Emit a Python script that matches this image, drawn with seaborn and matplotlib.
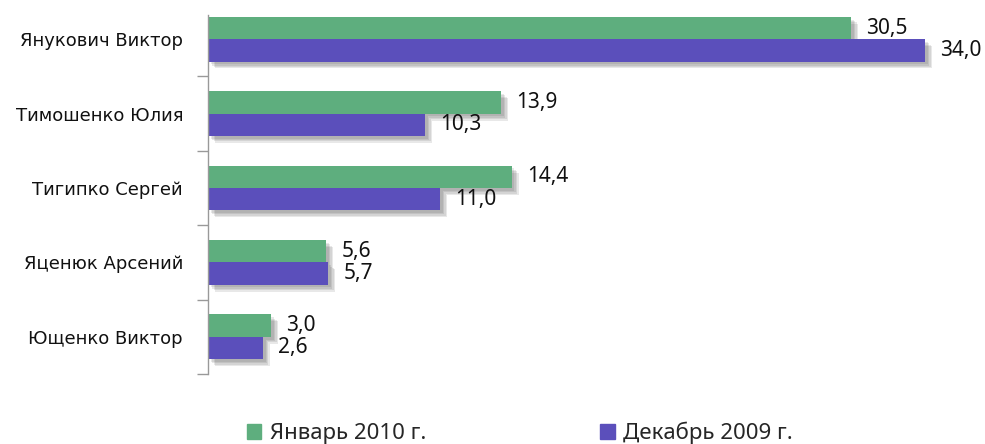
import matplotlib
matplotlib.use('Agg')
import numpy as np
import pandas as pd
import matplotlib.pyplot as plt
import matplotlib.patheffects as pe
from matplotlib.ticker import FixedLocator
import seaborn as sns

# данные рейтинга кандидатов
candidates = ['Янукович Виктор', 'Тимошенко Юлия', 'Тигипко Сергей',
              'Яценюк Арсений', 'Ющенко Виктор']
jan_2010 = [30.5, 13.9, 14.4, 5.6, 3.0]
dec_2009 = [34.0, 10.3, 11.0, 5.7, 2.6]
periods = ['Январь 2010 г.', 'Декабрь 2009 г.']
colors = ['#5eae7e', '#5b4fbb']

df = pd.DataFrame({
    'candidate': candidates * 2,
    'value': jan_2010 + dec_2009,
    'period': [periods[0]] * len(candidates) + [periods[1]] * len(candidates),
})

sns.set_style('white')
plt.rcParams['font.family'] = ['DejaVu Sans']

fig = plt.figure(figsize=(9.85, 4.44), dpi=100)
ax = fig.add_axes([208 / 985, 1 - 374 / 444, 767 / 985, 372 / 444])

sns.barplot(data=df, x='value', y='candidate', hue='period', orient='h',
            palette=colors, width=0.6, ax=ax, legend=False, saturation=1,
            linewidth=0)

# мягкая тень под столбиками
shadow = [pe.SimplePatchShadow(offset=(k, -k), shadow_rgbFace='#333333', alpha=0.11)
          for k in (5, 4, 3, 2)] + [pe.Normal()]
for cont in ax.containers:
    for bar in cont:
        bar.set_path_effects(shadow)
    vals = [b.get_width() for b in cont]
    ax.bar_label(cont, labels=[f'{v:.1f}'.replace('.', ',') for v in vals],
                 padding=11, fontsize=15, family='Noto Sans', color='#111111')

ax.set_xlim(0, 767 / (717 / 34.0))
ax.set_ylim(4.5, -0.5)
ax.set_xlabel('')
ax.set_ylabel('')
ax.set_xticks([])
ax.tick_params(axis='y', which='major', length=0, pad=18, labelsize=13)
ax.yaxis.set_minor_locator(FixedLocator(np.arange(0.5, 5, 1)))
ax.tick_params(axis='y', which='minor', length=8, width=1, color='#999999', left=True)
for lbl in ax.get_yticklabels():
    lbl.set_color('#111111')
for s in ['top', 'right', 'bottom']:
    ax.spines[s].set_visible(False)
ax.spines['left'].set_color('#999999')
ax.spines['left'].set_linewidth(1)
ax.spines['left'].set_bounds(4.5, -0.5 + 13 / 74)

handles = [plt.Rectangle((0, 0), 1, 1, color=c) for c in colors]
fig.legend(handles, periods, loc='lower center', bbox_to_anchor=(0.528, -0.045), ncol=2,
           frameon=False, handlelength=0.65, handleheight=0.65, handletextpad=0.4,
           columnspacing=7.8, prop={'family': 'Noto Sans', 'size': 16})

fig.savefig('out.png', dpi=100)
